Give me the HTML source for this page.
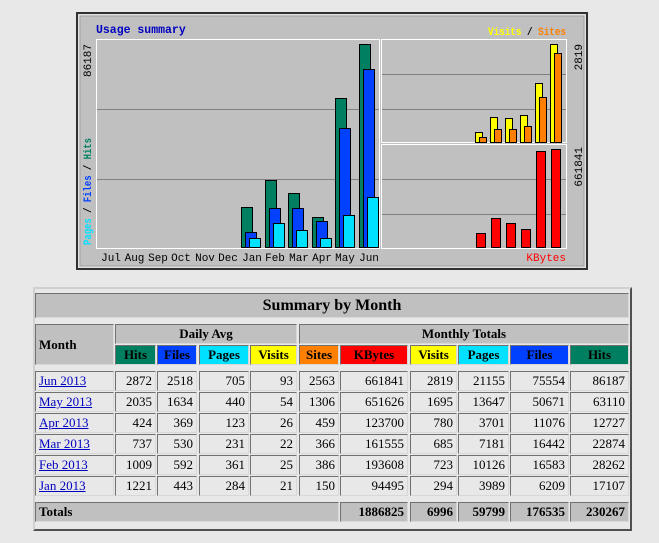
<!DOCTYPE html>
<html><head><meta charset="utf-8"><style>
body{margin:0;width:659px;height:543px;background:#e8e8e8;position:relative;overflow:hidden;font-family:"Liberation Serif",serif;}
.c{position:absolute;box-sizing:border-box;border:1px solid;border-color:#707070 #d8d8d8 #d8d8d8 #707070;font-size:13px;line-height:17px;padding:0 3px;text-align:right;color:#000;white-space:nowrap;}
.h{background:#c0c0c0;font-weight:bold;text-align:center;font-size:13px;}
.l{text-align:left;}
.l a{color:#0000c0;text-decoration:underline;}
svg text{font-family:"Liberation Mono",monospace;}
</style></head><body>
<svg width="659" height="280" style="position:absolute;left:0;top:0">
<rect x="77" y="13" width="510" height="256" fill="#e0e0e0" stroke="#303030" stroke-width="2"/>
<rect x="80" y="16" width="504" height="250" fill="#c0c0c0" stroke="#a0a0a0" stroke-width="1"/>
<rect x="96.5" y="39.5" width="283" height="209" fill="#c0c0c0" stroke="#fff"/>
<rect x="381.5" y="39.5" width="185" height="103" fill="#c0c0c0" stroke="#fff"/>
<rect x="381.5" y="144.5" width="185" height="104" fill="#c0c0c0" stroke="#fff"/>
<g stroke="#808080" stroke-width="1">
<line x1="97" y1="109.5" x2="379" y2="109.5"/><line x1="97" y1="179.5" x2="379" y2="179.5"/>
<line x1="382" y1="74.5" x2="566" y2="74.5"/><line x1="382" y1="109.5" x2="566" y2="109.5"/>
<line x1="382" y1="179.5" x2="566" y2="179.5"/><line x1="382" y1="214.5" x2="566" y2="214.5"/>
</g>
<g stroke="#000" stroke-width="1">
<g fill="#008060">
<rect x="241.5" y="207.5" width="11" height="40"/><rect x="265.5" y="180.5" width="11" height="67"/><rect x="288.5" y="193.5" width="11" height="54"/><rect x="312.5" y="217.5" width="11" height="30"/><rect x="335.5" y="98.5" width="11" height="149"/><rect x="359.5" y="44.5" width="11" height="203"/>
</g>
<g fill="#0040ff">
<rect x="245.5" y="232.5" width="11" height="15"/><rect x="269.5" y="208.5" width="11" height="39"/><rect x="292.5" y="208.5" width="11" height="39"/><rect x="316.5" y="221.5" width="11" height="26"/><rect x="339.5" y="128.5" width="11" height="119"/><rect x="363.5" y="69.5" width="11" height="178"/>
</g>
<g fill="#00e0ff">
<rect x="249.5" y="238.5" width="11" height="9"/><rect x="273.5" y="223.5" width="11" height="24"/><rect x="296.5" y="230.5" width="11" height="17"/><rect x="320.5" y="238.5" width="11" height="9"/><rect x="343.5" y="215.5" width="11" height="32"/><rect x="367.5" y="197.5" width="11" height="50"/>
</g>
<g fill="#ffff00">
<rect x="475.5" y="132.5" width="7" height="10"/><rect x="490.5" y="117.5" width="7" height="25"/><rect x="505.5" y="118.5" width="7" height="24"/><rect x="520.5" y="115.5" width="7" height="27"/><rect x="535.5" y="83.5" width="7" height="59"/><rect x="550.5" y="44.5" width="7" height="98"/>
</g>
<g fill="#ff8000">
<rect x="479.5" y="137.5" width="7" height="5"/><rect x="494.5" y="129.5" width="7" height="13"/><rect x="509.5" y="129.5" width="7" height="13"/><rect x="524.5" y="126.5" width="7" height="16"/><rect x="539.5" y="97.5" width="7" height="45"/><rect x="554.5" y="53.5" width="7" height="89"/>
</g>
<g fill="#ff0000">
<rect x="476.5" y="233.5" width="9" height="14"/><rect x="491.5" y="218.5" width="9" height="29"/><rect x="506.5" y="223.5" width="9" height="24"/><rect x="521.5" y="229.5" width="9" height="18"/><rect x="536.5" y="151.5" width="9" height="96"/><rect x="551.5" y="149.5" width="9" height="98"/>
</g>
</g>
<text x="96" y="33" font-size="11.5" font-weight="bold" fill="#0000c0">Usage summary</text>
<text x="488" y="35" font-size="11" font-weight="bold" textLength="78" lengthAdjust="spacingAndGlyphs"><tspan fill="#ffff00">Visits</tspan><tspan fill="#000"> / </tspan><tspan fill="#ff8000">Sites</tspan></text>
<text x="566" y="261" font-size="11" text-anchor="end" fill="#ff0000">KBytes</text>
<text transform="translate(91,44) rotate(-90)" font-size="11" text-anchor="end">86187</text>
<text transform="translate(91,245) rotate(-90)" font-size="11" font-weight="bold" textLength="107" lengthAdjust="spacingAndGlyphs"><tspan fill="#00e0ff">Pages</tspan><tspan fill="#000"> / </tspan><tspan fill="#0040ff">Files</tspan><tspan fill="#000"> / </tspan><tspan fill="#008060">Hits</tspan></text>
<text transform="translate(582,44) rotate(-90)" font-size="11" text-anchor="end">2819</text>
<text transform="translate(582,147) rotate(-90)" font-size="11" text-anchor="end">661841</text>
<g font-size="11" text-anchor="middle">
<text x="111" y="261">Jul</text><text x="134.5" y="261">Aug</text><text x="158" y="261">Sep</text><text x="181" y="261">Oct</text><text x="205" y="261">Nov</text><text x="228" y="261">Dec</text><text x="252" y="261">Jan</text><text x="275" y="261">Feb</text><text x="299" y="261">Mar</text><text x="322" y="261">Apr</text><text x="345" y="261">May</text><text x="369" y="261">Jun</text>
</g>
</svg>

<div style="position:absolute;left:33px;top:287px;width:599px;height:244px;box-sizing:border-box;border:2px solid;border-color:#d0d0d0 #505050 #505050 #d0d0d0;"></div>
<div class="c h" style="left:35px;top:293px;width:594px;height:25px;font-size:16px;line-height:23px;">Summary by Month</div>
<div class="c h l" style="left:35px;top:324px;width:79px;height:41px;line-height:39px;">Month</div>
<div class="c h" style="left:115px;top:324px;width:182px;height:20px;">Daily Avg</div>
<div class="c h" style="left:299px;top:324px;width:330px;height:20px;">Monthly Totals</div>
<div class="c h" style="left:115px;top:345px;width:41px;height:20px;background:#008060;">Hits</div>
<div class="c h" style="left:157px;top:345px;width:40px;height:20px;background:#0040ff;">Files</div>
<div class="c h" style="left:199px;top:345px;width:50px;height:20px;background:#00e0ff;">Pages</div>
<div class="c h" style="left:250px;top:345px;width:47px;height:20px;background:#ffff00;">Visits</div>
<div class="c h" style="left:299px;top:345px;width:40px;height:20px;background:#ff8000;">Sites</div>
<div class="c h" style="left:340px;top:345px;width:68px;height:20px;background:#ff0000;">KBytes</div>
<div class="c h" style="left:410px;top:345px;width:47px;height:20px;background:#ffff00;">Visits</div>
<div class="c h" style="left:458px;top:345px;width:51px;height:20px;background:#00e0ff;">Pages</div>
<div class="c h" style="left:510px;top:345px;width:59px;height:20px;background:#0040ff;">Files</div>
<div class="c h" style="left:570px;top:345px;width:59px;height:20px;background:#008060;">Hits</div>

<div class="c l" style="left:35px;top:371px;width:79px;height:20px;"><a>Jun 2013</a></div>
<div class="c" style="left:115px;top:371px;width:41px;height:20px;">2872</div>
<div class="c" style="left:157px;top:371px;width:40px;height:20px;">2518</div>
<div class="c" style="left:199px;top:371px;width:50px;height:20px;">705</div>
<div class="c" style="left:250px;top:371px;width:47px;height:20px;">93</div>
<div class="c" style="left:299px;top:371px;width:40px;height:20px;">2563</div>
<div class="c" style="left:340px;top:371px;width:68px;height:20px;">661841</div>
<div class="c" style="left:410px;top:371px;width:47px;height:20px;">2819</div>
<div class="c" style="left:458px;top:371px;width:51px;height:20px;">21155</div>
<div class="c" style="left:510px;top:371px;width:59px;height:20px;">75554</div>
<div class="c" style="left:570px;top:371px;width:59px;height:20px;">86187</div>

<div class="c l" style="left:35px;top:392px;width:79px;height:20px;"><a>May 2013</a></div>
<div class="c" style="left:115px;top:392px;width:41px;height:20px;">2035</div>
<div class="c" style="left:157px;top:392px;width:40px;height:20px;">1634</div>
<div class="c" style="left:199px;top:392px;width:50px;height:20px;">440</div>
<div class="c" style="left:250px;top:392px;width:47px;height:20px;">54</div>
<div class="c" style="left:299px;top:392px;width:40px;height:20px;">1306</div>
<div class="c" style="left:340px;top:392px;width:68px;height:20px;">651626</div>
<div class="c" style="left:410px;top:392px;width:47px;height:20px;">1695</div>
<div class="c" style="left:458px;top:392px;width:51px;height:20px;">13647</div>
<div class="c" style="left:510px;top:392px;width:59px;height:20px;">50671</div>
<div class="c" style="left:570px;top:392px;width:59px;height:20px;">63110</div>

<div class="c l" style="left:35px;top:413px;width:79px;height:20px;"><a>Apr 2013</a></div>
<div class="c" style="left:115px;top:413px;width:41px;height:20px;">424</div>
<div class="c" style="left:157px;top:413px;width:40px;height:20px;">369</div>
<div class="c" style="left:199px;top:413px;width:50px;height:20px;">123</div>
<div class="c" style="left:250px;top:413px;width:47px;height:20px;">26</div>
<div class="c" style="left:299px;top:413px;width:40px;height:20px;">459</div>
<div class="c" style="left:340px;top:413px;width:68px;height:20px;">123700</div>
<div class="c" style="left:410px;top:413px;width:47px;height:20px;">780</div>
<div class="c" style="left:458px;top:413px;width:51px;height:20px;">3701</div>
<div class="c" style="left:510px;top:413px;width:59px;height:20px;">11076</div>
<div class="c" style="left:570px;top:413px;width:59px;height:20px;">12727</div>

<div class="c l" style="left:35px;top:434px;width:79px;height:20px;"><a>Mar 2013</a></div>
<div class="c" style="left:115px;top:434px;width:41px;height:20px;">737</div>
<div class="c" style="left:157px;top:434px;width:40px;height:20px;">530</div>
<div class="c" style="left:199px;top:434px;width:50px;height:20px;">231</div>
<div class="c" style="left:250px;top:434px;width:47px;height:20px;">22</div>
<div class="c" style="left:299px;top:434px;width:40px;height:20px;">366</div>
<div class="c" style="left:340px;top:434px;width:68px;height:20px;">161555</div>
<div class="c" style="left:410px;top:434px;width:47px;height:20px;">685</div>
<div class="c" style="left:458px;top:434px;width:51px;height:20px;">7181</div>
<div class="c" style="left:510px;top:434px;width:59px;height:20px;">16442</div>
<div class="c" style="left:570px;top:434px;width:59px;height:20px;">22874</div>

<div class="c l" style="left:35px;top:455px;width:79px;height:20px;"><a>Feb 2013</a></div>
<div class="c" style="left:115px;top:455px;width:41px;height:20px;">1009</div>
<div class="c" style="left:157px;top:455px;width:40px;height:20px;">592</div>
<div class="c" style="left:199px;top:455px;width:50px;height:20px;">361</div>
<div class="c" style="left:250px;top:455px;width:47px;height:20px;">25</div>
<div class="c" style="left:299px;top:455px;width:40px;height:20px;">386</div>
<div class="c" style="left:340px;top:455px;width:68px;height:20px;">193608</div>
<div class="c" style="left:410px;top:455px;width:47px;height:20px;">723</div>
<div class="c" style="left:458px;top:455px;width:51px;height:20px;">10126</div>
<div class="c" style="left:510px;top:455px;width:59px;height:20px;">16583</div>
<div class="c" style="left:570px;top:455px;width:59px;height:20px;">28262</div>

<div class="c l" style="left:35px;top:476px;width:79px;height:20px;"><a>Jan 2013</a></div>
<div class="c" style="left:115px;top:476px;width:41px;height:20px;">1221</div>
<div class="c" style="left:157px;top:476px;width:40px;height:20px;">443</div>
<div class="c" style="left:199px;top:476px;width:50px;height:20px;">284</div>
<div class="c" style="left:250px;top:476px;width:47px;height:20px;">21</div>
<div class="c" style="left:299px;top:476px;width:40px;height:20px;">150</div>
<div class="c" style="left:340px;top:476px;width:68px;height:20px;">94495</div>
<div class="c" style="left:410px;top:476px;width:47px;height:20px;">294</div>
<div class="c" style="left:458px;top:476px;width:51px;height:20px;">3989</div>
<div class="c" style="left:510px;top:476px;width:59px;height:20px;">6209</div>
<div class="c" style="left:570px;top:476px;width:59px;height:20px;">17107</div>

<div class="c h l" style="left:35px;top:502px;width:304px;height:20px;">Totals</div>
<div class="c h" style="left:340px;top:502px;width:68px;height:20px;text-align:right;">1886825</div>
<div class="c h" style="left:410px;top:502px;width:47px;height:20px;text-align:right;">6996</div>
<div class="c h" style="left:458px;top:502px;width:51px;height:20px;text-align:right;">59799</div>
<div class="c h" style="left:510px;top:502px;width:59px;height:20px;text-align:right;">176535</div>
<div class="c h" style="left:570px;top:502px;width:59px;height:20px;text-align:right;">230267</div>
</body></html>
